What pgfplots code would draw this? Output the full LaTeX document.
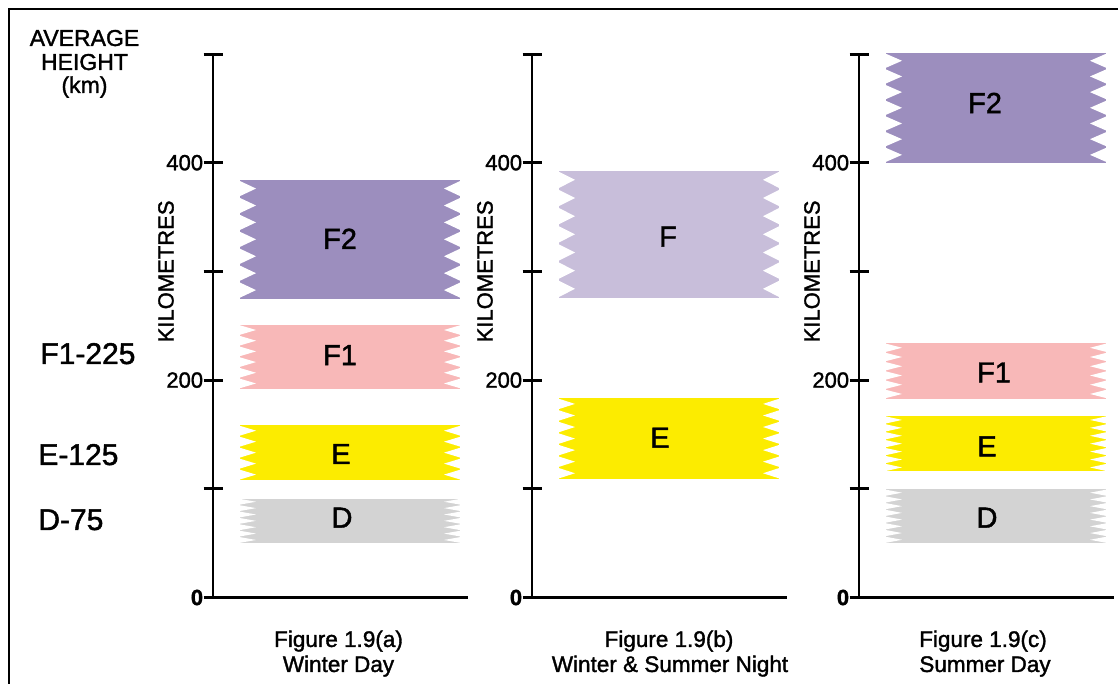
\documentclass[border=0pt]{standalone}
\usepackage{fontspec}
\setmainfont{Liberation Sans}[FakeBold=1.5]
\usepackage{pgfplots}
\pgfplotsset{compat=1.18}

\definecolor{cF2}{RGB}{156,142,190}
\definecolor{cF}{RGB}{200,190,218}
\definecolor{cF1}{RGB}{248,184,184}
\definecolor{cE}{RGB}{252,236,0}
\definecolor{cD}{RGB}{211,211,211}

% band: colour, lower height, upper height, number of notches
\newcommand{\band}[4]{%
  \addplot[fill=#1, draw=none, forget plot] coordinates {(27,#2) (247,#2) (247,#3) (27,#3)} -- cycle;
  \pgfmathsetmacro{\bandp}{(#3-#2)/#4}%
  \foreach \k in {1,...,#4}{%
    \pgfmathsetmacro{\ya}{#3-(\k-1)*\bandp}%
    \pgfmathsetmacro{\yb}{#3-(\k-0.5)*\bandp}%
    \pgfmathsetmacro{\yc}{#3-\k*\bandp}%
    \edef\temp{\noexpand\fill[white] (axis cs:25,\ya) -- (axis cs:43,\yb) -- (axis cs:25,\yc) -- cycle;
      \noexpand\fill[white] (axis cs:249,\ya) -- (axis cs:231,\yb) -- (axis cs:249,\yc) -- cycle;}%
    \temp
  }%
}

\pgfplotsset{panel/.style={
  scale only axis, width=127.5pt, height=271.75pt,
  xmin=0, xmax=255, ymin=0, ymax=500,
  anchor=south west,
  axis lines=left,
  axis line style={-},
  every outer x axis line/.append style={-},
  every outer y axis line/.append style={-},
  x axis line style={line width=1.2pt, -},
  y axis line style={line width=1.4pt, -},
  xtick=\empty,
  ytick={0,100,200,300,400,500},
  yticklabels={\textbf{0},,200,,400,},
  tick align=center,
  major tick length=9.5pt,
  major tick style={black, line width=1.5pt},
  yticklabel style={font=\fontsize{11}{13}\selectfont, anchor=east, inner sep=0pt},
  clip=false,
}}

\begin{document}
\begin{tikzpicture}
\useasboundingbox (0,0) rectangle (559pt,342pt);
% frame
\draw[line width=1.2pt] (4.5pt,0pt) -- (4.5pt,337.6pt) -- (559pt,337.6pt);

% left labels
\node[font=\fontsize{11.5}{13}\selectfont, anchor=base] at (42.25pt,319pt) {AVERAGE};
\node[font=\fontsize{11.5}{13}\selectfont, anchor=base] at (42.25pt,307pt) {HEIGHT};
\node[font=\fontsize{11.5}{13}\selectfont, anchor=base] at (42.25pt,295.5pt) {(km)};
\node[font=\fontsize{15}{17}\selectfont, anchor=base west, inner sep=0pt] at (20pt,160pt) {F1-225};
\node[font=\fontsize{15}{17}\selectfont, anchor=base west, inner sep=0pt] at (19pt,109.5pt) {E-125};
\node[font=\fontsize{15}{17}\selectfont, anchor=base west, inner sep=0pt] at (19pt,77pt) {D-75};

% (a) Winter Day
\begin{axis}[panel, at={(106.5pt,43.25pt)}]
  \band{cF2}{275}{384}{7}
  \band{cF1}{192}{251}{6}
  \band{cE}{108}{158.5}{5}
  \band{cD}{50}{91}{7}
  \node[font=\fontsize{14.5}{17}\selectfont] at (axis cs:127,330) {F2};
  \node[font=\fontsize{14.5}{17}\selectfont] at (axis cs:127,223) {F1};
  \node[font=\fontsize{14.5}{17}\selectfont] at (axis cs:128,132) {E};
  \node[font=\fontsize{14.5}{17}\selectfont] at (axis cs:129,73.5) {D};
  \node[rotate=90, font=\fontsize{11}{13}\selectfont] at (axis cs:-47,300) {KILOMETRES};
  \node[font=\fontsize{11.25}{13}\selectfont, anchor=base] at (axis cs:125.5,-45.5) {Figure 1.9(a)};
  \node[font=\fontsize{11.25}{13}\selectfont, anchor=base] at (axis cs:125.5,-68.5) {Winter Day};
\end{axis}

% (b) Winter & Summer Night
\begin{axis}[panel, at={(266pt,43.25pt)}]
  \band{cF}{275.6}{392.6}{7}
  \band{cE}{109}{183.4}{7}
  \node[font=\fontsize{14.5}{17}\selectfont] at (axis cs:136,332) {F};
  \node[font=\fontsize{14.5}{17}\selectfont] at (axis cs:128,147) {E};
  \node[rotate=90, font=\fontsize{11}{13}\selectfont] at (axis cs:-47,300) {KILOMETRES};
  \node[font=\fontsize{11.25}{13}\selectfont, anchor=base] at (axis cs:137,-45.5) {Figure 1.9(b)};
  \node[font=\fontsize{11.25}{13}\selectfont, anchor=base] at (axis cs:138,-68.5) {Winter \& Summer Night};
\end{axis}

% (c) Summer Day
\begin{axis}[panel, at={(429.5pt,43.25pt)}]
  \band{cF2}{400}{501}{7}
  \band{cF1}{183}{234}{6}
  \band{cE}{116}{167}{7}
  \band{cD}{50}{99.5}{8}
  \node[font=\fontsize{14.5}{17}\selectfont] at (axis cs:126,455) {F2};
  \node[font=\fontsize{14.5}{17}\selectfont] at (axis cs:135,207) {F1};
  \node[font=\fontsize{14.5}{17}\selectfont] at (axis cs:128,139) {E};
  \node[font=\fontsize{14.5}{17}\selectfont] at (axis cs:128,73.5) {D};
  \node[rotate=90, font=\fontsize{11}{13}\selectfont] at (axis cs:-47,300) {KILOMETRES};
  \node[font=\fontsize{11.25}{13}\selectfont, anchor=base] at (axis cs:124,-45.5) {Figure 1.9(c)};
  \node[font=\fontsize{11.25}{13}\selectfont, anchor=base] at (axis cs:126,-68.5) {Summer Day};
\end{axis}
\end{tikzpicture}
\end{document}
